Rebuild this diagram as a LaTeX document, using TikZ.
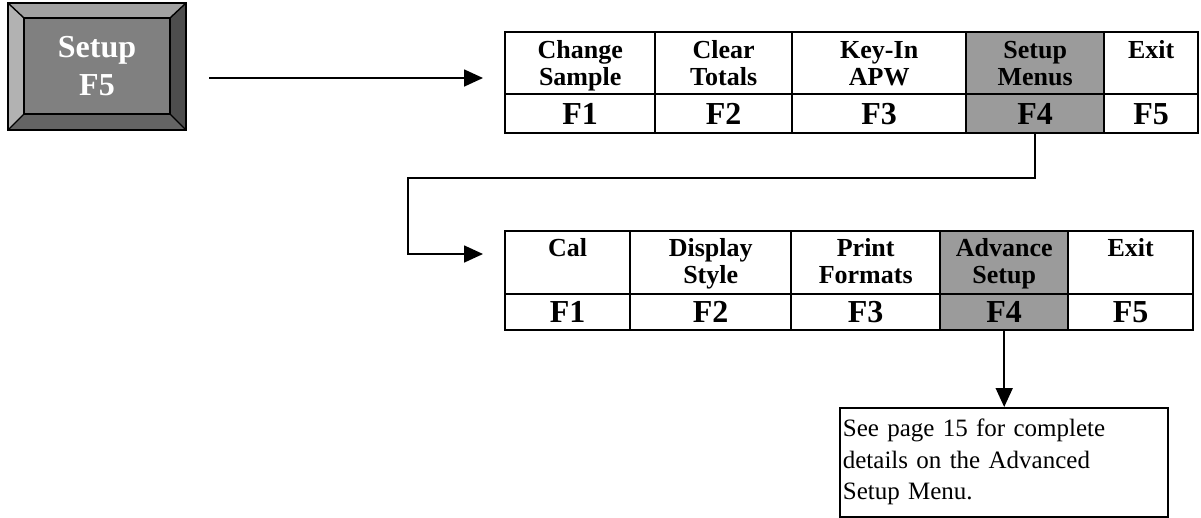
\documentclass[tikz,border=0pt]{standalone}
\usepackage{fontspec}
\setmainfont{Liberation Serif}
\usetikzlibrary{arrows.meta,calc}
\definecolor{keymid}{RGB}{128,128,128}
\definecolor{keytop}{RGB}{162,162,162}
\definecolor{keyleft}{RGB}{178,178,178}
\definecolor{keyright}{RGB}{77,77,77}
\definecolor{keybot}{RGB}{100,100,100}
\definecolor{selgray}{RGB}{155,155,155}
\newcommand\mycell[6]{\node[cell,#6,minimum width={#3-#2},minimum height={#5-#4},anchor=north west] (#1) at (#2,#4) {};}
\begin{document}
\begin{tikzpicture}[x=1pt,y=-1pt,
  cell/.style={draw=black,line width=2.4pt,inner sep=0pt,fill=white},
  sel/.style={fill=selgray},
  plain/.style={},
  hdr/.style={font=\bfseries\fontsize{26}{27}\selectfont,align=center,inner sep=0pt,anchor=base},
  fkey/.style={font=\bfseries\fontsize{32}{38}\selectfont,inner sep=0pt},
  conn/.style={draw=black,line width=1.7pt},
  arr/.style={conn,-{Triangle[length=19pt,width=17pt]}},
  keybox/.style={draw=black,line width=1.8pt,fill=keymid,minimum width=176pt,minimum height=125pt,inner sep=0pt,
    text=white,font=\bfseries\fontsize{32}{38}\selectfont,align=center},
  notebox/.style={draw=black,line width=1.7pt,anchor=north west,minimum width=328pt,minimum height=109pt,
    text width=322pt,inner xsep=3pt,inner ysep=0pt,align=left,font=\fontsize{25}{31.5}\selectfont}
]
\useasboundingbox (0,0) rectangle (1201,517);
% ---- key ----
\node[keybox] (key) at (97,66.5) {Setup\\F5};
\coordinate (ki1) at ($(key.north west)+(16,15)$);
\coordinate (ki2) at ($(key.north east)+(-16,15)$);
\coordinate (ki3) at ($(key.south east)+(-16,-16)$);
\coordinate (ki4) at ($(key.south west)+(16,-16)$);
\fill[keytop] (key.north west) -- (key.north east) -- (ki2) -- (ki1) -- cycle;
\fill[keyright] (key.north east) -- (key.south east) -- (ki3) -- (ki2) -- cycle;
\fill[keybot] (key.south east) -- (key.south west) -- (ki4) -- (ki3) -- cycle;
\fill[keyleft] (key.south west) -- (key.north west) -- (ki1) -- (ki4) -- cycle;
\draw[line width=1.8pt] (key.north west) rectangle (key.south east);
\draw[line width=1.8pt] (ki1) rectangle (ki3);
\draw[line width=1.4pt] (key.north west) -- (ki1) (key.north east) -- (ki2)
  (key.south east) -- (ki3) (key.south west) -- (ki4);
% ---- table 1 ----
\mycell{t1h1}{504}{654}{31}{93}{plain}
\mycell{t1h2}{654}{791}{31}{93}{plain}
\mycell{t1h3}{791}{965}{31}{93}{plain}
\mycell{t1h4}{965}{1103}{31}{93}{sel}
\mycell{t1h5}{1103}{1197}{31}{93}{plain}
\mycell{t1f1}{504}{654}{93}{132}{plain}
\mycell{t1f2}{654}{791}{93}{132}{plain}
\mycell{t1f3}{791}{965}{93}{132}{plain}
\mycell{t1f4}{965}{1103}{93}{132}{sel}
\mycell{t1f5}{1103}{1197}{93}{132}{plain}
\node[hdr] (t1l1) at ($(t1h1.north)+(0,54)$) {Change\\Sample};
\node[hdr] (t1l2) at ($(t1h2.north)+(0,54)$) {Clear\\Totals};
\node[hdr] (t1l3) at ($(t1h3.north)+(0,54)$) {Key-In\\APW};
\node[hdr] (t1l4) at ($(t1h4.north)+(0,54)$) {Setup\\Menus};
\node[hdr] (t1l5) at ($(t1h5.north)+(0,27)$) {Exit};
\node[fkey] (t1k1) at (t1f1) {F1};
\node[fkey] (t1k2) at (t1f2) {F2};
\node[fkey] (t1k3) at (t1f3) {F3};
\node[fkey] (t1k4) at (t1f4) {F4};
\node[fkey] (t1k5) at (t1f5) {F5};
% ---- table 2 ----
\mycell{t2h1}{504}{629}{230}{293}{plain}
\mycell{t2h2}{629}{790}{230}{293}{plain}
\mycell{t2h3}{790}{939}{230}{293}{plain}
\mycell{t2h4}{939}{1067}{230}{293}{sel}
\mycell{t2h5}{1067}{1192}{230}{293}{plain}
\mycell{t2f1}{504}{629}{293}{329}{plain}
\mycell{t2f2}{629}{790}{293}{329}{plain}
\mycell{t2f3}{790}{939}{293}{329}{plain}
\mycell{t2f4}{939}{1067}{293}{329}{sel}
\mycell{t2f5}{1067}{1192}{293}{329}{plain}
\node[hdr] (t2l1) at ($(t2h1.north)+(0,26)$) {Cal};
\node[hdr] (t2l2) at ($(t2h2.north)+(0,53)$) {Display\\Style};
\node[hdr] (t2l3) at ($(t2h3.north)+(0,53)$) {Print\\Formats};
\node[hdr] (t2l4) at ($(t2h4.north)+(0,53)$) {Advance\\Setup};
\node[hdr] (t2l5) at ($(t2h5.north)+(0,26)$) {Exit};
\node[fkey] (t2k1) at (t2f1) {F1};
\node[fkey] (t2k2) at (t2f2) {F2};
\node[fkey] (t2k3) at (t2f3) {F3};
\node[fkey] (t2k4) at (t2f4) {F4};
\node[fkey] (t2k5) at (t2f5) {F5};
% ---- note ----
\node[notebox] (note) at (839,407) {See page 15 for complete\\details on the Advanced\\Setup Menu.};
% ---- connectors ----
\coordinate (a1s) at (209,78);
\coordinate (bend) at (408,178);
\coordinate (a2e) at (483,254);
\draw[arr,shorten >=21pt] (a1s) -- (a1s -| t1h1.west);
\draw[arr] (t1f4.south) |- (bend) |- (a2e);
\draw[arr] (t2f4.south) -- (t2f4.south |- note.north);
\end{tikzpicture}
\end{document}
